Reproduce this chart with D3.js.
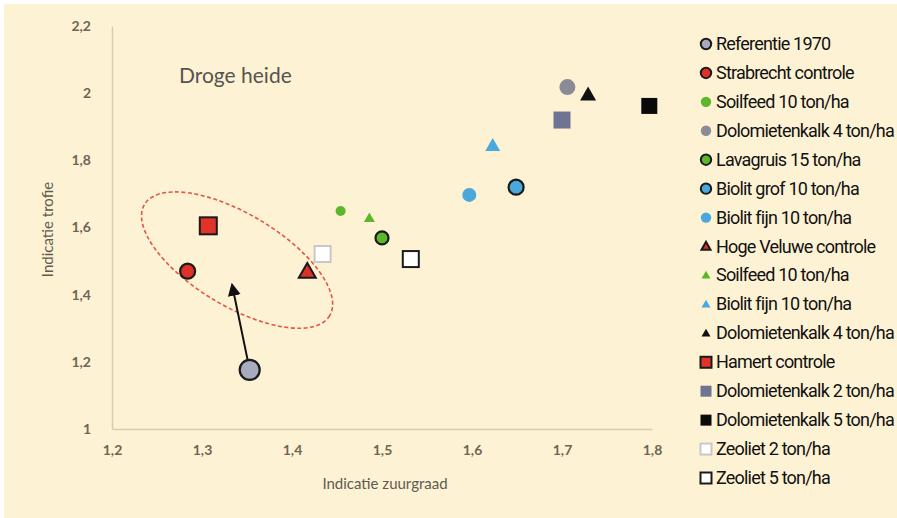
<!DOCTYPE html>
<head>
    <meta charset="utf-8">
    <script src="https://d3js.org/d3.v7.min.js"></script>
    <style>
        body { margin: 0; background: #fff; }
        svg { display: block; }
    </style>
</head>

<body>
    <script>
        // ---- data ----
        const seriesNames = [
            'Referentie 1970', 'Strabrecht controle', 'Soilfeed 10 ton/ha', 'Dolomietenkalk 4 ton/ha',
            'Lavagruis 15 ton/ha', 'Biolit grof 10 ton/ha', 'Biolit fijn 10 ton/ha', 'Hoge Veluwe controle',
            'Soilfeed 10 ton/ha', 'Biolit fijn 10 ton/ha', 'Dolomietenkalk 4 ton/ha', 'Hamert controle',
            'Dolomietenkalk 2 ton/ha', 'Dolomietenkalk 5 ton/ha', 'Zeoliet 2 ton/ha', 'Zeoliet 5 ton/ha'
        ];
        const zuurgraad = [1.353, 1.284, 1.454, 1.706, 1.500, 1.649, 1.597, 1.417,
            1.486, 1.623, 1.729, 1.307, 1.700, 1.797, 1.434, 1.532];
        const trofie = [1.176, 1.470, 1.649, 2.018, 1.569, 1.720, 1.697, 1.468,
            1.628, 1.843, 1.995, 1.605, 1.920, 1.962, 1.521, 1.506];
        const shapes = ['circle', 'circle', 'circle', 'circle', 'circle', 'circle', 'circle', 'triangle',
            'triangle', 'triangle', 'triangle', 'square', 'square', 'square', 'square', 'square'];
        const fills = ['#a8abbd', '#e0302a', '#5cb82a', '#8b8b98', '#5cb82a', '#4aa8dc', '#4aa8dc', '#d8322a',
            '#5cb82a', '#4aa8dc', '#111111', '#e0342a', '#6e7491', '#0a0a0a', '#ffffff', '#ffffff'];
        const strokes = ['#1a1a1a', '#1a1a1a', 'none', 'none', '#1a1a1a', '#1a1a1a', 'none', '#1a1a1a',
            'none', 'none', 'none', '#1a1a1a', 'none', 'none', '#c8c8c8', '#1a1a1a'];
        const sizes = [10, 7.5, 5, 8, 6.5, 7.5, 7, 17, 11, 15, 16, 17, 17, 16, 16, 16];

        const xTicks = [1.2, 1.3, 1.4, 1.5, 1.6, 1.7, 1.8];
        const yTicks = [1, 1.2, 1.4, 1.6, 1.8, 2, 2.2];

        // arrow from Referentie 1970 to tip
        const arrowTip = [1.333, 1.435];
        // dashed ellipse (center in data units)
        const ellipseCenter = [1.339, 1.503];

        // ---- layout ----
        const width = 897, height = 518;
        const x = d3.scaleLinear().domain([1.2, 1.8]).range([112, 652]);
        const y = d3.scaleLinear().domain([1, 2.2]).range([429, 26]);
        const fmt = d => String(d).replace('.', ',');

        const svg = d3.select('body').append('svg')
            .attr('width', width).attr('height', height);

        svg.append('rect').attr('x', 4).attr('y', 4)
            .attr('width', width - 4).attr('height', height - 4)
            .attr('fill', '#fef2d4');

        // axes
        const gx = svg.append('g').attr('transform', `translate(0,${y(1)})`)
            .call(d3.axisBottom(x).tickValues(xTicks).tickFormat(fmt).tickSize(0).tickPadding(16));
        const gy = svg.append('g').attr('transform', `translate(${x(1.2)},0)`)
            .call(d3.axisLeft(y).tickValues(yTicks).tickFormat(fmt).tickSize(0).tickPadding(21));
        [gx, gy].forEach(g => {
            g.select('.domain').attr('stroke', '#d8cdb4').attr('stroke-width', 1.5);
            g.selectAll('text').attr('fill', '#6e6553').attr('font-family', 'Lato, sans-serif')
                .attr('font-size', 14).attr('font-weight', 'bold');
        });
        gy.selectAll('text').attr('dy', '0.32em');

        svg.append('text').attr('x', 385).attr('y', 489)
            .attr('text-anchor', 'middle').attr('fill', '#615b50')
            .attr('font-family', 'Lato, sans-serif').attr('font-size', 15)
            .text('Indicatie zuurgraad');
        svg.append('text').attr('transform', `translate(53,${(y(1) + y(2.2)) / 2 + 2}) rotate(-90)`)
            .attr('text-anchor', 'middle').attr('fill', '#615b50')
            .attr('font-family', 'Lato, sans-serif').attr('font-size', 15)
            .text('Indicatie trofie');

        svg.append('text').attr('x', 179).attr('y', 83)
            .attr('fill', '#57534e').attr('font-family', 'Lato, sans-serif').attr('font-size', 21)
            .text('Droge heide');

        // ellipse
        svg.append('ellipse')
            .attr('transform', `translate(${x(ellipseCenter[0])},${y(ellipseCenter[1])}) rotate(31)`)
            .attr('rx', 108).attr('ry', 46)
            .attr('fill', 'none').attr('stroke', '#e0574a').attr('stroke-width', 1.6)
            .attr('stroke-dasharray', '4,2.5');

        // arrow
        svg.append('defs').append('marker')
            .attr('id', 'head').attr('viewBox', '0 0 10 10').attr('refX', 3).attr('refY', 5)
            .attr('markerWidth', 6.5).attr('markerHeight', 6.5).attr('orient', 'auto')
            .append('path').attr('d', 'M0,0L10,5L0,10Z').attr('fill', '#111');
        const sx = x(zuurgraad[0]), sy = y(trofie[0]);
        const tx = x(arrowTip[0]), ty = y(arrowTip[1]);
        const ang = Math.atan2(ty - sy, tx - sx);
        svg.append('line')
            .attr('x1', sx + Math.cos(ang) * 9).attr('y1', sy + Math.sin(ang) * 9)
            .attr('x2', tx - Math.cos(ang) * 9).attr('y2', ty - Math.sin(ang) * 9)
            .attr('stroke', '#111').attr('stroke-width', 2)
            .attr('marker-end', 'url(#head)');

        const data = seriesNames.map((name, i) => ({
            name, x: zuurgraad[i], y: trofie[i], shape: shapes[i],
            fill: fills[i], stroke: strokes[i], size: sizes[i]
        }));

        function drawMarker(g, d) {
            const sw = d.stroke === 'none' ? 0 : (d.shape === 'circle' ? 2.2 : 2);
            const s = d.size;
            if (d.shape === 'circle') {
                g.append('circle').attr('r', s);
            } else if (d.shape === 'square') {
                g.append('rect').attr('x', -s / 2).attr('y', -s / 2).attr('width', s).attr('height', s);
            } else {
                const h = s * 0.866;
                g.append('path').attr('d', `M0,${-h * 0.6}L${s / 2},${h * 0.4}L${-s / 2},${h * 0.4}Z`);
            }
            g.selectAll('*').attr('fill', d.fill).attr('stroke', d.stroke).attr('stroke-width', sw);
        }

        // points
        svg.append('g').selectAll('g').data(data).join('g')
            .attr('transform', d => `translate(${x(d.x)},${y(d.y)})`)
            .each(function (d) { drawMarker(d3.select(this), d); });

        // legend
        const legend = svg.append('g');
        const legendY = d3.scalePoint().domain(d3.range(data.length)).range([44, 478]);
        data.forEach((d, i) => {
            const row = legend.append('g').attr('transform', `translate(0,${legendY(i)})`);
            const m = row.append('g').attr('transform', 'translate(706,0)');
            const legendSize = d.shape === 'circle' ? 5.2 : (d.shape === 'square' ? 11 : 9);
            drawMarker(m, Object.assign({}, d, { size: legendSize }));
            m.selectAll('*').attr('stroke-width', d.stroke === 'none' ? 0 : 2);
            row.append('text').attr('x', 716).attr('y', 6)
                .attr('font-family', 'Roboto, sans-serif').attr('font-size', 18)
                .attr('letter-spacing', -0.8).attr('fill', '#111')
                .text(d.name);
        });
    </script>
</body>
